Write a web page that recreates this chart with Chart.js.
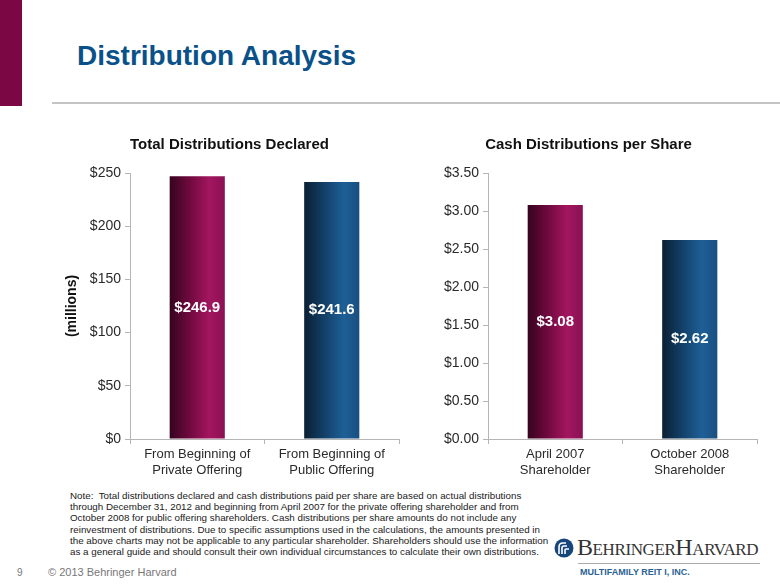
<!DOCTYPE html>
<html>
<head>
<meta charset="utf-8">
<script src="https://cdn.jsdelivr.net/npm/chart.js@4.4.1/dist/chart.umd.min.js"></script>
<style>
  html, body { margin: 0; padding: 0; background: #fff; }
  body { width: 780px; height: 585px; position: relative; overflow: hidden; font-family: "Liberation Sans", Arial, sans-serif; }
  .abs { position: absolute; }
  #strip { left: 0; top: 0; width: 22px; height: 106px; background: #7b0844; }
  #rule { left: 52px; top: 102px; width: 728px; height: 2px; background: #c4c4c4; }
  #title { left: 77px; top: 40px; font-size: 28px; font-weight: bold; color: #0b5189; white-space: nowrap; }
  #note { left: 70px; top: 490px; font-size: 9.8px; line-height: 11.2px; color: #1a1a1a; white-space: nowrap; }
  #page { left: 17px; top: 567px; font-size: 10px; color: #777; }
  #copy { left: 48px; top: 566px; font-size: 11px; color: #777; }
  #logoText { left: 577px; top: 534px; font-family: "Liberation Serif", serif; font-size: 24px; font-variant: small-caps; color: #333; letter-spacing: -0.4px; white-space: nowrap; }
  #logoRule { left: 578px; top: 563px; width: 182px; height: 1px; background: #aaa; }
  #logoSub { left: 580px; top: 567px; font-size: 9px; font-weight: bold; color: #2c6294; white-space: nowrap; }
  #logoIcon { left: 554px; top: 538px; }
</style>
</head>
<body>
<div id="strip" class="abs"></div>
<div id="title" class="abs">Distribution Analysis</div>
<div id="rule" class="abs"></div>

<canvas id="leftChart" class="abs" width="340" height="350" style="left:60px;top:130px;"></canvas>
<canvas id="rightChart" class="abs" width="340" height="350" style="left:420px;top:130px;"></canvas>

<div id="note" class="abs">Note:&nbsp; Total distributions declared and cash distributions paid per share are based on actual distributions<br>through December 31, 2012 and beginning from April 2007 for the private offering shareholder and from<br>October 2008 for public offering shareholders. Cash distributions per share amounts do not include any<br>reinvestment of distributions. Due to specific assumptions used in the calculations, the amounts presented in<br>the above charts may not be applicable to any particular shareholder. Shareholders should use the information<br>as a general guide and should consult their own individual circumstances to calculate their own distributions.</div>

<div id="page" class="abs">9</div>
<div id="copy" class="abs">© 2013 Behringer Harvard</div>

<svg id="logoIcon" class="abs" width="20" height="20" viewBox="0 0 20 20">
  <circle cx="10" cy="10" r="9.5" fill="#16467a"/>
  <path d="M5 16 V9 Q5 5 9 5 H12" stroke="#fff" stroke-width="1.6" fill="none"/>
  <path d="M8 16 V10 Q8 8 10 8 H13" stroke="#fff" stroke-width="1.6" fill="none"/>
  <path d="M11 16 V12 Q11 11 12 11 H15" stroke="#fff" stroke-width="1.6" fill="none"/>
</svg>
<div id="logoText" class="abs">BehringerHarvard</div>
<div id="logoRule" class="abs"></div>
<div id="logoSub" class="abs">MULTIFAMILY REIT I, INC.</div>

<script>
// ---- data ----
const totalCategories = [['From Beginning of', 'Private Offering'], ['From Beginning of', 'Public Offering']];
const totalValues = [246.9, 241.6];
const totalMax = 250;
const totalStep = 50;

const perShareCategories = [['April 2007', 'Shareholder'], ['October 2008', 'Shareholder']];
const perShareValues = [3.08, 2.62];
const perShareMax = 3.5;
const perShareStep = 0.5;

// ---- styling ----
Chart.defaults.font.family = '"Liberation Sans", Arial, sans-serif';
Chart.defaults.color = '#2a2a2a';

const BAR_PCT = 0.41;
const maroonStops = [[0, '#35041f'], [0.35, '#6e093d'], [0.72, '#a3165f'], [1, '#8a1153']];
const blueStops = [[0, '#0a1f33'], [0.35, '#123f66'], [0.72, '#1e5f97'], [1, '#194f80']];
const palette = [maroonStops, blueStops];

function barGradient(ctx) {
  const chart = ctx.chart;
  const xs = chart.scales.x;
  const stops = palette[ctx.dataIndex % palette.length];
  if (!chart.chartArea || !xs) return stops[2][1];
  const n = chart.data.labels.length;
  const center = xs.getPixelForValue(ctx.dataIndex);
  const half = (xs.width / n) * BAR_PCT / 2;
  const g = chart.ctx.createLinearGradient(center - half, 0, center + half, 0);
  stops.forEach(s => g.addColorStop(s[0], s[1]));
  return g;
}

// white value label in the middle of each bar
const insideLabels = {
  id: 'insideLabels',
  afterDatasetsDraw(chart, args, opts) {
    const c = chart.ctx;
    const meta = chart.getDatasetMeta(0);
    c.save();
    c.font = 'bold 15px "Liberation Sans", Arial, sans-serif';
    c.fillStyle = '#fff';
    c.textAlign = 'center';
    c.textBaseline = 'middle';
    meta.data.forEach((bar, i) => {
      const v = chart.data.datasets[0].data[i];
      c.fillText('$' + v.toFixed(opts.decimals), bar.x, (bar.y + bar.base) / 2);
    });
    c.restore();
  }
};

function makeChart(id, labels, values, opts) {
  return new Chart(document.getElementById(id), {
    type: 'bar',
    data: {
      labels: labels,
      datasets: [{
        data: values,
        backgroundColor: barGradient,
        borderWidth: 0,
        barPercentage: BAR_PCT,
        categoryPercentage: 1
      }]
    },
    options: {
      responsive: false,
      animation: false,
      layout: { padding: { right: opts.padRight } },
      plugins: {
        legend: { display: false },
        tooltip: { enabled: false },
        title: {
          display: true,
          text: opts.title,
          color: '#111',
          font: { size: 15, weight: 'bold' },
          padding: { top: 6, bottom: 19 }
        },
        insideLabels: { decimals: opts.decimals }
      },
      scales: {
        x: {
          grid: { drawOnChartArea: false, drawTicks: true, tickLength: 5, color: '#b5b5b5' },
          border: { color: '#b5b5b5' },
          ticks: { font: { size: 13 }, padding: 3, color: '#2a2a2a' },
          afterFit(scale) { scale.height = 41; }
        },
        y: {
          min: 0,
          max: opts.max,
          grid: { drawOnChartArea: false, drawTicks: true, tickLength: 5, color: '#b5b5b5' },
          border: { color: '#b5b5b5' },
          ticks: {
            stepSize: opts.step,
            font: { size: 14 },
            padding: 4,
            color: '#2a2a2a',
            callback: v => '$' + v.toFixed(opts.decimals === 1 ? 0 : 2)
          },
          title: {
            display: !!opts.yTitle,
            text: opts.yTitle || '',
            color: '#111',
            font: { size: 14, weight: 'bold' },
            padding: { top: 4, bottom: 0 }
          },
          afterFit(scale) { scale.width = opts.yWidth; }
        }
      }
    },
    plugins: [insideLabels]
  });
}

makeChart('leftChart', totalCategories, totalValues, {
  title: 'Total Distributions Declared', max: totalMax, step: totalStep,
  decimals: 1, yTitle: '(millions)', yWidth: 70, padRight: 1
});
makeChart('rightChart', perShareCategories, perShareValues, {
  title: 'Cash Distributions per Share', max: perShareMax, step: perShareStep,
  decimals: 2, yTitle: null, yWidth: 68, padRight: 3
});
</script>
</body>
</html>
